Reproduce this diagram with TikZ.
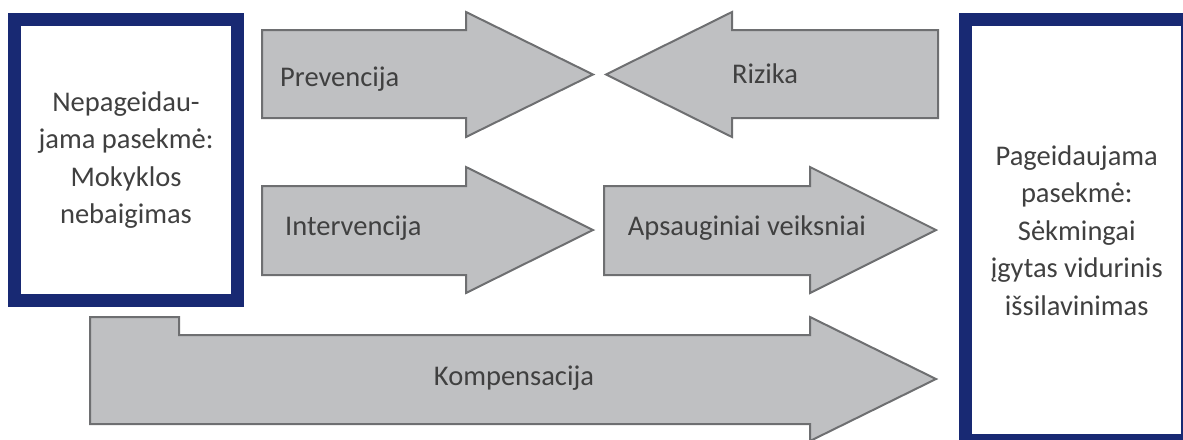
\documentclass[tikz,border=0pt]{standalone}
\usepackage{fontspec}
\setmainfont{Carlito}
\definecolor{navy}{RGB}{24,41,115}
\definecolor{arrowfill}{RGB}{191,192,194}
\definecolor{arrowline}{RGB}{110,111,113}
\definecolor{txtgrey}{RGB}{64,64,64}
\begin{document}
\begin{tikzpicture}[x=1pt,y=-1pt]
\tikzstyle{outcome} = [rectangle, draw=navy, line width=13.5pt, fill=white, text=txtgrey, align=center, font=\fontsize{28.5}{37.5}\selectfont]
\tikzstyle{block} = [draw=arrowline, line width=2pt, fill=arrowfill, line join=miter]
\tikzstyle{arrowtext} = [inner sep=0pt, text=txtgrey, font=\fontsize{28.5}{34}\selectfont]
\useasboundingbox (0,0) rectangle (1183,439);
\begin{scope}
\clip (0,0) rectangle (1183,439);
\node (bad) [outcome, minimum width=223pt, minimum height=281pt] at (126,160) {Nepageidau-\\jama pasekmė:\\Mokyklos\\nebaigimas};
\node (good) [outcome, minimum width=222.5pt, minimum height=421.5pt] at (1076.75,230.25) {Pageidaujama\\pasekmė:\\Sėkmingai\\įgytas vidurinis\\išsilavinimas};
\end{scope}
\draw [block] (262,30) -- (466,30) -- (466,12) -- (593,74.5) -- (466,137) -- (466,118) -- (262,118) -- cycle;
\draw [block] (938,30) -- (732,30) -- (732,12) -- (606,74.5) -- (732,137) -- (732,118) -- (938,118) -- cycle;
\draw [block] (262,186) -- (466,186) -- (466,167) -- (593,230) -- (466,293) -- (466,275) -- (262,275) -- cycle;
\draw [block] (604,186) -- (810,186) -- (810,167) -- (936,230) -- (810,293) -- (810,275) -- (604,275) -- cycle;
\draw [block] (90,317) -- (179,317) -- (179,335) -- (810,335) -- (810,317) -- (936,379) -- (810,441) -- (810,424) -- (90,424) -- cycle;
\node (prev) [arrowtext, anchor=base west] at (280,86) {Prevencija};
\node (rizika) [arrowtext, anchor=base] at (765,83) {Rizika};
\node (interv) [arrowtext, anchor=base west] at (285,235) {Intervencija};
\node (apsaug) [arrowtext, anchor=base] at (747,235) {Apsauginiai veiksniai};
\node (komp) [arrowtext, anchor=base] at (514,385) {Kompensacija};
\end{tikzpicture}
\end{document}
